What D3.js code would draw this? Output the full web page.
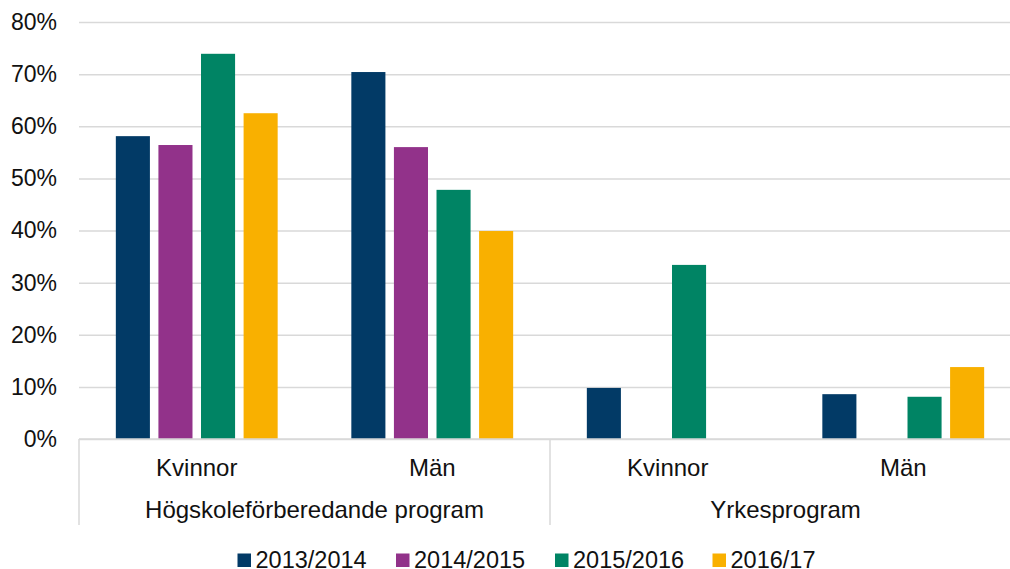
<!DOCTYPE html>
<html>
<head>
<meta charset="utf-8">
<script src="https://cdn.jsdelivr.net/npm/d3@7"></script>
<style>
  body { margin: 0; background: #fff; }
  svg { display: block; font-family: "Liberation Sans", Arial, sans-serif; }
</style>
</head>
<body>
<div id="chart"></div>
<script>
// =======================
// DATA
// =======================
const categories = ["Kvinnor", "Män", "Kvinnor", "Män"];
const groups = ["Högskoleförberedande program", "Yrkesprogram"];
const groupOf = [0, 0, 1, 1];
const series = ["2013/2014", "2014/2015", "2015/2016", "2016/17"];
const colors = ["#023a66", "#92328a", "#008464", "#f9b000"];

// one array per series, one value per category (null = no bar)
const v2013 = [0.581, 0.704, 0.098, 0.086];
const v2014 = [0.564, 0.560, null, null];
const v2015 = [0.739, 0.478, 0.334, 0.081];
const v2016 = [0.625, 0.399, null, 0.138];
const seriesValues = [v2013, v2014, v2015, v2016];

const yTicks = [0, 0.1, 0.2, 0.3, 0.4, 0.5, 0.6, 0.7, 0.8];

// =======================
// SVG SETUP
// =======================
const width = 1010;
const height = 569;
const plotLeft = 79;
const plotRight = 1021; // plot runs a little past the picture edge
const plotTop = 22;
const plotBottom = 439;

const svg = d3.select('#chart')
  .append('svg')
  .attr('width', width)
  .attr('height', height);

const x0 = d3.scaleBand()
  .domain(d3.range(categories.length))
  .range([plotLeft, plotRight]);

const x1 = d3.scaleBand()
  .domain(series)
  .range([0, x0.bandwidth()])
  .paddingInner(0.2)
  .paddingOuter(0.865);

const y = d3.scaleLinear()
  .domain([0, 0.8])
  .range([plotBottom, plotTop]);

// =======================
// GRID + Y AXIS
// =======================
const yAxis = svg.append('g')
  .attr('transform', `translate(${plotLeft},0)`)
  .call(d3.axisLeft(y)
    .tickValues(yTicks)
    .tickSize(-(plotRight - plotLeft))
    .tickPadding(22)
    .tickFormat(d3.format('.0%')));

yAxis.select('.domain').remove();
yAxis.selectAll('.tick line')
  .attr('stroke', '#d9d9d9')
  .attr('stroke-width', 1.5);
yAxis.selectAll('.tick text')
  .attr('fill', '#111')
  .style('font-size', '23px')
  .style('font-family', '"Liberation Sans", Arial, sans-serif');

// =======================
// BARS
// =======================
const barData = [];
series.forEach((s, si) => {
  seriesValues[si].forEach((v, ci) => {
    if (v !== null) barData.push({ series: s, si, ci, value: v });
  });
});

svg.append('g')
  .selectAll('rect')
  .data(barData)
  .enter()
  .append('rect')
  .attr('x', d => x0(d.ci) + x1(d.series))
  .attr('y', d => y(d.value))
  .attr('width', x1.bandwidth())
  .attr('height', d => y(0) - y(d.value))
  .attr('fill', d => colors[d.si]);

// =======================
// CATEGORY AXIS (two levels)
// =======================
const axisBottom = 525;

svg.append('line')
  .attr('x1', plotLeft).attr('x2', plotRight)
  .attr('y1', plotBottom).attr('y2', plotBottom)
  .attr('stroke', '#d9d9d9')
  .attr('stroke-width', 1.5);

const groupEdges = [0, 2, 4].map(i => i < categories.length ? x0(i) : plotRight);
groupEdges.forEach(gx => {
  svg.append('line')
    .attr('x1', gx).attr('x2', gx)
    .attr('y1', plotBottom).attr('y2', axisBottom)
    .attr('stroke', '#d9d9d9')
    .attr('stroke-width', 1.5);
});

svg.append('g')
  .selectAll('text')
  .data(categories)
  .enter()
  .append('text')
  .attr('x', (d, i) => x0(i) + x0.bandwidth() / 2)
  .attr('y', 476)
  .attr('text-anchor', 'middle')
  .attr('fill', '#111')
  .style('font-size', '24px')
  .text(d => d);

svg.append('g')
  .selectAll('text')
  .data(groups)
  .enter()
  .append('text')
  .attr('x', (d, gi) => {
    const idx = groupOf.map((g, i) => g === gi ? i : -1).filter(i => i >= 0);
    return (x0(idx[0]) + x0(idx[idx.length - 1]) + x0.bandwidth()) / 2;
  })
  .attr('y', 518)
  .attr('text-anchor', 'middle')
  .attr('fill', '#111')
  .style('font-size', '24px')
  .text(d => d);

// =======================
// LEGEND
// =======================
const legendX = [237.5, 396, 555, 712.5];
const legend = svg.append('g')
  .selectAll('g')
  .data(series)
  .enter()
  .append('g')
  .attr('transform', (d, i) => `translate(${legendX[i]},553.5)`);

legend.append('rect')
  .attr('width', 13.5)
  .attr('height', 13.5)
  .attr('fill', (d, i) => colors[i]);

legend.append('text')
  .attr('x', 18)
  .attr('y', 14)
  .attr('fill', '#111')
  .style('font-size', '23.5px')
  .text(d => d);
</script>
</body>
</html>
